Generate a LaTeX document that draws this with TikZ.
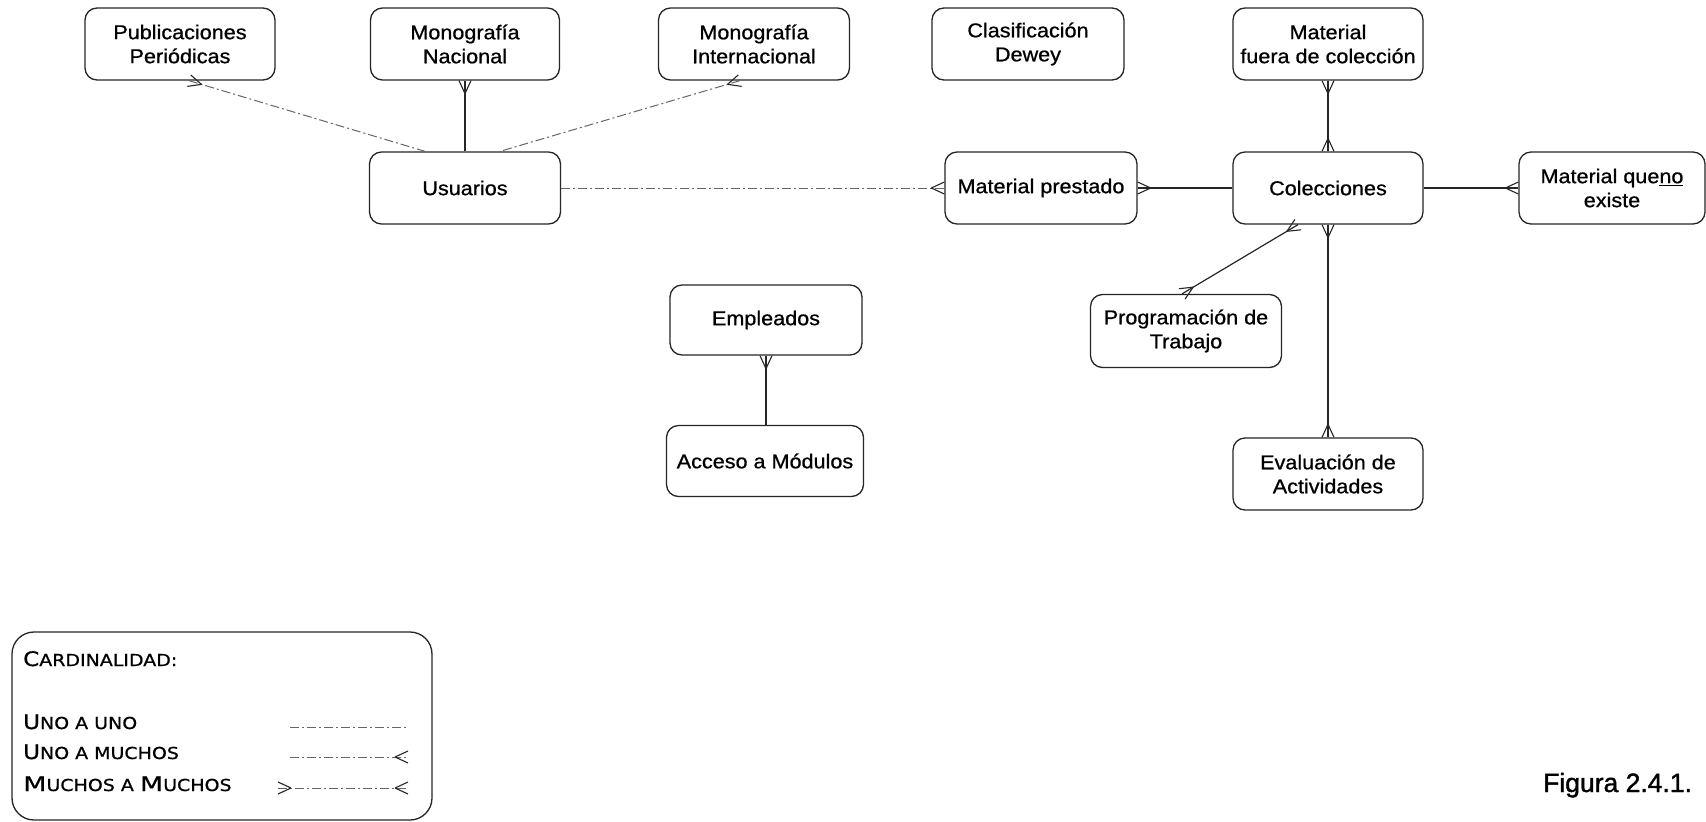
\documentclass[tikz,border=0pt]{standalone}
\usepackage{fontspec}
\setmainfont{Liberation Sans}
\newfontfamily\boxfont{Liberation Sans}[FakeStretch=1.08,FakeBold=0.8]
\newfontfamily\legfont{DejaVu Sans}[FakeStretch=1.15,FakeBold=0.8]
\newfontfamily\figfont{Liberation Sans}[FakeBold=1.5]
\usetikzlibrary{calc}
\newcommand\lgB[1]{{\fontsize{20}{20}\selectfont #1}}
\newcommand\lgS[1]{{\fontsize{16.5}{20}\selectfont #1}}
\newcommand\lgM[1]{{\fontsize{20}{20}\selectfont\addfontfeature{FakeStretch=1.35}#1}}
\newcommand\crowfoot[2]{\draw[crowst] ($(#1)!13pt!(#2)$) -- ($(#1)!6pt!90:(#2)$) ($(#1)!13pt!(#2)$) -- ($(#1)!6pt!-90:(#2)$);}
\tikzset{
  ent/.style={draw=black!85, rounded corners=12pt, line width=1.3pt, align=center, inner sep=0pt,
    font=\boxfont\fontsize{20}{24}\selectfont},
  conn/.style={draw=black!85, line width=1.2pt},
  faint/.style={draw=black!60, line width=1pt, dash pattern=on 9pt off 3pt on 2pt off 3pt},
  crowst/.style={draw=black!85, line width=1.1pt},
  legbox/.style={draw=black!85, line width=1.3pt, rounded corners=22pt, inner sep=0pt},
  legtext/.style={anchor=base west, inner sep=0pt, font=\legfont}
}
\begin{document}
\begin{tikzpicture}[x=1pt,y=-1pt]
\fill[white] (0,0) rectangle (1706,822);
\useasboundingbox (0,0) rectangle (1706,822);

% entities
\node[ent, minimum width=190pt, minimum height=72pt] (pub) at (180,44) {Publicaciones\\Periódicas};
\node[ent, minimum width=189pt, minimum height=72pt] (monnac) at (465,44) {Monografía\\Nacional};
\node[ent, minimum width=191pt, minimum height=72pt] (monint) at (754,44) {Monografía\\Internacional};
\node[ent, minimum width=192pt, minimum height=72pt] (dewey) at (1028,44) {Clasificación\\Dewey};
\node[ent, minimum width=190pt, minimum height=72pt] (fuera) at (1328,44) {Material\\fuera de colección};
\node[ent, minimum width=191pt, minimum height=72pt] (usu) at (465,188) {Usuarios};
\node[ent, minimum width=192pt, minimum height=72pt] (prest) at (1041,188) {Material prestado};
\node[ent, minimum width=190pt, minimum height=72pt] (col) at (1328,188) {Colecciones};
\node[ent, minimum width=186pt, minimum height=72pt] (noex) at (1612,188) {Material que\underline{no}\\existe};
\node[ent, minimum width=192pt, minimum height=70pt] (emp) at (766,320) {Empleados};
\node[ent, minimum width=197pt, minimum height=71pt] (acc) at (765,461) {Acceso a Módulos};
\node[ent, minimum width=191pt, minimum height=73pt] (prog) at (1186,331) {Programación de\\Trabajo};
\node[ent, minimum width=190pt, minimum height=72pt] (eval) at (1328,474) {Evaluación de\\Actividades};

% connectors
\coordinate (pubB) at ($(pub.south)+(9,0)$);
\coordinate (usuTL) at ($(usu.north)+(-40,0)$);
\draw[faint] (pubB) -- (usuTL);
\crowfoot{pubB}{usuTL}

\draw[conn] (monnac.south) -- (usu.north);
\crowfoot{monnac.south}{usu.north}

\coordinate (intB) at ($(monint.south)+(-14,0)$);
\coordinate (usuTR) at ($(usu.north)+(35,0)$);
\draw[faint] (intB) -- (usuTR);
\crowfoot{intB}{usuTR}

\draw[faint] (usu.east) -- (prest.west);
\crowfoot{prest.west}{usu.east}

\draw[conn] (prest.east) -- (col.west);
\crowfoot{prest.east}{col.west}

\draw[conn] (fuera.south) -- (col.north);
\crowfoot{fuera.south}{col.north}
\crowfoot{col.north}{fuera.south}

\draw[conn] (col.east) -- (noex.west);
\crowfoot{noex.west}{col.east}

\coordinate (colB) at ($(col.south)+(-30,0)$);
\coordinate (progT) at ($(prog.north)+(-4,0)$);
\draw[conn] (colB) -- (progT);
\crowfoot{colB}{progT}
\crowfoot{progT}{colB}

\draw[conn] (col.south) -- (eval.north);
\crowfoot{col.south}{eval.north}
\crowfoot{eval.north}{col.south}

\coordinate (accT) at (emp.south |- acc.north);
\draw[conn] (emp.south) -- (accT);
\crowfoot{emp.south}{accT}

% legend
\node[legbox, minimum width=420pt, minimum height=188pt] (leg) at (222,726) {};
\node[legtext] (t0) at (23,666) {\lgB{C}\lgS{ARDINALIDAD:}};
\node[legtext] (t1) at (23,729) {\lgB{U}\lgS{NO A UNO}};
\node[legtext] (t2) at (23,759) {\lgB{U}\lgS{NO A MUCHOS}};
\node[legtext] (t3) at (23,791) {\lgM{M}\lgS{UCHOS A }\lgM{M}\lgS{UCHOS}};

\coordinate (l1a) at (290,727); \coordinate (l1b) at (408,727);
\draw[faint] (l1a) -- (l1b);
\coordinate (l2a) at (290,757); \coordinate (l2b) at (408,757);
\draw[faint] (l2a) -- (l2b);
\crowfoot{l2b}{l2a}
\coordinate (l3a) at (278,788); \coordinate (l3b) at (408,788);
\draw[faint] (l3a) -- (l3b);
\crowfoot{l3a}{l3b}
\crowfoot{l3b}{l3a}

\node[anchor=base west, inner sep=0pt, font=\figfont\fontsize{26.5}{30}\selectfont] (fig) at (1543,792) {Figura 2.4.1.};
\end{tikzpicture}
\end{document}
